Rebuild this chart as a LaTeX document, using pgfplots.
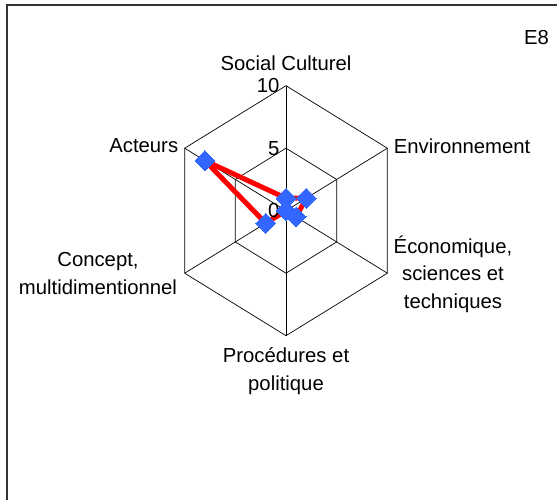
\documentclass[border=0pt]{standalone}
\usepackage{fontspec}
\setmainfont{Liberation Sans}
\usepackage{pgfplots}
\pgfplotsset{compat=1.18}
\definecolor{serred}{HTML}{FF0000}
\definecolor{serblue}{HTML}{3366FF}
\definecolor{framegray}{HTML}{333333}
\newcommand\lab{\fontsize{20.3}{27.5}\selectfont}
\begin{document}
\begin{tikzpicture}
\begin{axis}[
  width=557pt, height=500pt, scale only axis,
  xmin=-24.444, xmax=23.162, ymin=-23.144, ymax=16.856,
  hide axis, clip=false,
]
% grid spokes
\addplot[black, line width=0.7pt, data cs=polar] coordinates {(0,0) (90,10)};
\addplot[black, line width=0.7pt, data cs=polar] coordinates {(0,0) (30,10)};
\addplot[black, line width=0.7pt, data cs=polar] coordinates {(0,0) (-30,10)};
\addplot[black, line width=0.7pt, data cs=polar] coordinates {(0,0) (-90,10)};
\addplot[black, line width=0.7pt, data cs=polar] coordinates {(0,0) (210,10)};
\addplot[black, line width=0.7pt, data cs=polar] coordinates {(0,0) (150,10)};
% rings
\addplot[black, line width=0.7pt, data cs=polar] coordinates {(90,5) (30,5) (-30,5) (-90,5) (210,5) (150,5) (90,5)};
\addplot[black, line width=0.7pt, data cs=polar] coordinates {(90,10) (30,10) (-30,10) (-90,10) (210,10) (150,10) (90,10)};
% data
\addplot[serred, line width=5pt, line join=round, data cs=polar,
  mark=square*, mark size=7pt, mark options={rotate=45, fill=serblue, draw=serblue, line width=0pt}]
  coordinates {(90,1) (30,2) (-30,1) (-90,0) (210,2) (150,8) (90,1)};
% labels
\node[font=\lab] at (axis cs:0,11.82) {Social Culturel};
\node[font=\lab, anchor=east, inner sep=0pt] at (axis cs:-0.55,10) {10};
\node[font=\lab, anchor=east, inner sep=0pt] at (axis cs:-0.55,5) {5};
\node[font=\lab, anchor=east, inner sep=0pt] at (axis cs:-0.55,0.05) {0};
\node[font=\lab, anchor=east, inner sep=0pt] at (axis cs:-9.2,5.18) {Acteurs};
\node[font=\lab, anchor=west, inner sep=0pt] at (axis cs:9.2,5.18) {Environnement};
\node[font=\lab, align=center] at (axis cs:14.27,-5.06) {Économique,\\sciences et\\techniques};
\node[font=\lab, align=center] at (axis cs:-16.07,-5.02) {Concept,\\multidimentionnel};
\node[font=\lab, align=center] at (axis cs:0,-12.82) {Procédures et\\politique};
\node[font=\lab] at (axis cs:21.41,13.82) {E8};
% frame
\draw[framegray, line width=1.6pt] (axis cs:-23.85,-25) -- (axis cs:-23.85,16.456) -- (axis cs:25,16.456);
\end{axis}
\pgfresetboundingbox
\path (current axis.south west) rectangle (current axis.north east);
\end{tikzpicture}
\end{document}
